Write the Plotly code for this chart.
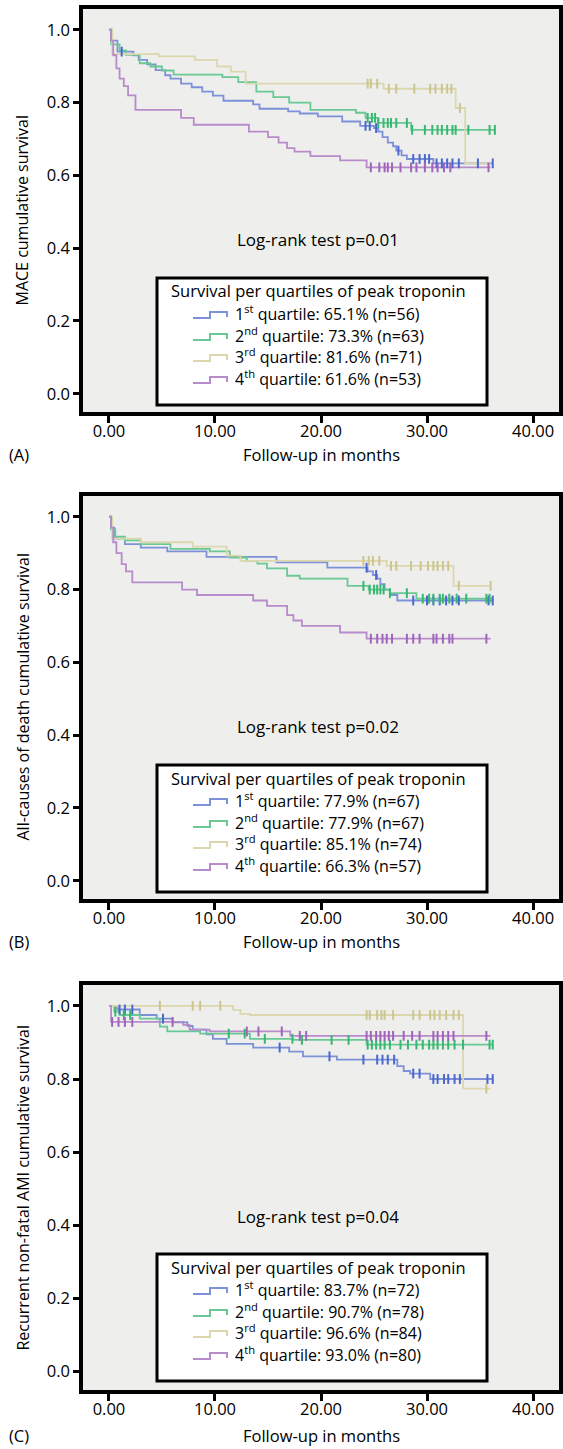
import plotly.graph_objects as go

W, H = 563, 1449

# ---------------- data ----------------
x_ticks = [0, 10, 20, 30, 40]
x_ticklabels = ["0.00", "10.00", "20.00", "30.00", "40.00"]
y_ticks = [0.0, 0.2, 0.4, 0.6, 0.8, 1.0]
y_ticklabels = ["0.0", "0.2", "0.4", "0.6", "0.8", "1.0"]

panel_letters = ["(A)", "(B)", "(C)"]
y_titles = ["MACE cumulative survival",
            "All-causes of death cumulative survival",
            "Recurrent non-fatal AMI cumulative survival"]
x_title = "Follow-up in months"
logrank = ["Log-rank test p=0.01", "Log-rank test p=0.02", "Log-rank test p=0.04"]
legend_title = "Survival per quartiles of peak troponin"
quartile_names = ["1<sup>st</sup> quartile", "2<sup>nd</sup> quartile",
                  "3<sup>rd</sup> quartile", "4<sup>th</sup> quartile"]
A_pct = ["65.1%", "73.3%", "81.6%", "61.6%"]
A_n = [56, 63, 71, 53]
B_pct = ["77.9%", "77.9%", "85.1%", "66.3%"]
B_n = [67, 67, 74, 57]
C_pct = ["83.7%", "90.7%", "96.6%", "93.0%"]
C_n = [72, 78, 84, 80]

# ---- Panel A (MACE) ----
A_q1_t = [0, 0.3, 0.8, 2.3, 2.8, 3.6, 4.4, 5.3, 5.8, 6.8, 7.8, 8.8, 9.8, 10.8, 13.6, 14.2,
          16.9, 18.0, 19.7, 22.0, 23.7, 25.0, 25.4, 25.8, 26.3, 26.8, 27.1, 27.6, 28.1, 30.6, 36.2]
A_q1_s = [1.0, 0.97, 0.94, 0.93, 0.917, 0.905, 0.889, 0.875, 0.866, 0.852, 0.842, 0.83, 0.819,
          0.805, 0.795, 0.783, 0.776, 0.77, 0.762, 0.748, 0.736, 0.73, 0.72, 0.705, 0.69, 0.68,
          0.668, 0.655, 0.645, 0.633, 0.633]
A_q1_c = [1.2, 24.2, 24.6, 25.2, 27.3, 28.7, 29.3, 29.8, 30.2, 30.9, 31.4, 31.9, 32.4, 33.0, 34.8, 36.2]

A_q2_t = [0, 0.2, 1.0, 1.6, 2.9, 3.9, 5.0, 6.1, 10.7, 12.2, 13.9, 15.5, 17.0, 19.0, 23.3,
          24.2, 25.4, 28.5, 36.4]
A_q2_s = [1.0, 0.96, 0.943, 0.931, 0.908, 0.899, 0.888, 0.877, 0.870, 0.856, 0.83, 0.815,
          0.80, 0.78, 0.772, 0.758, 0.744, 0.725, 0.725]
A_q2_c = [24.4, 24.8, 25.1, 25.4, 25.9, 26.3, 26.6, 27.1, 28.1, 28.6, 29.8, 30.5, 31.0, 31.4,
          31.9, 32.4, 32.7, 33.9, 35.9, 36.4]

A_q3_t = [0, 0.3, 4.7, 8.1, 10.2, 11.5, 12.9, 25.9, 32.7, 33.6, 36.0]
A_q3_s = [1.0, 0.933, 0.927, 0.917, 0.899, 0.885, 0.852, 0.838, 0.785, 0.633, 0.633]
A_q3_c = [24.4, 24.7, 25.3, 26.4, 27.1, 28.8, 30.3, 30.8, 31.4, 31.9, 32.3, 33.1]

A_q4_t = [0, 0.2, 0.4, 0.7, 1.0, 1.4, 1.8, 2.5, 6.8, 8.0, 13.2, 15.0, 16.0, 16.8, 17.5,
          19.0, 21.8, 24.3, 36.0]
A_q4_s = [1.0, 0.97, 0.93, 0.894, 0.866, 0.845, 0.82, 0.78, 0.758, 0.739, 0.72, 0.705, 0.69,
          0.675, 0.665, 0.653, 0.641, 0.622, 0.622]
A_q4_c = [24.7, 25.5, 26.0, 26.3, 26.7, 27.5, 28.5, 29.0, 29.8, 30.5, 31.0, 31.6, 32.2, 35.8]

# ---- Panel B (all-cause death) ----
B_q1_t = [0, 0.2, 0.5, 1.5, 3.0, 5.5, 9.2, 15.8, 20.6, 24.4, 24.9, 25.3, 25.6, 26.0, 26.5,
          27.2, 36.2]
B_q1_s = [1.0, 0.97, 0.94, 0.925, 0.915, 0.905, 0.89, 0.875, 0.86, 0.85, 0.84, 0.83, 0.815,
          0.80, 0.785, 0.77, 0.77]
B_q1_c = [24.3, 25.2, 28.7, 30.0, 30.6, 31.2, 31.8, 32.4, 33.0, 35.8, 36.2]

B_q2_t = [0, 0.2, 0.6, 1.5, 3.0, 5.8, 9.5, 11.4, 13.0, 14.0, 14.9, 16.8, 18.0, 22.5, 24.5,
          26.5, 29.0, 36.2]
B_q2_s = [1.0, 0.965, 0.945, 0.935, 0.925, 0.912, 0.905, 0.888, 0.879, 0.871, 0.858, 0.838,
          0.83, 0.81, 0.80, 0.79, 0.775, 0.775]
B_q2_c = [24.0, 24.6, 25.0, 25.3, 25.6, 25.9, 26.5, 28.1, 29.6, 30.2, 30.6, 31.2, 31.5, 32.1,
          32.8, 33.7, 35.6, 35.9]

B_q3_t = [0, 0.3, 3.0, 7.9, 11.1, 12.4, 26.2, 32.5, 36.0]
B_q3_s = [1.0, 0.94, 0.93, 0.918, 0.893, 0.879, 0.865, 0.81, 0.81]
B_q3_c = [24.0, 24.5, 24.9, 25.5, 26.6, 27.1, 28.5, 29.4, 30.1, 30.6, 31.0, 31.5, 32.0, 33.0, 36.0]

B_q4_t = [0, 0.2, 0.4, 0.7, 1.2, 1.6, 2.2, 6.9, 8.3, 13.6, 14.9, 16.8, 17.4, 18.2, 21.8,
          24.3, 36.0]
B_q4_s = [1.0, 0.97, 0.93, 0.90, 0.87, 0.85, 0.82, 0.80, 0.785, 0.77, 0.755, 0.73, 0.715,
          0.70, 0.682, 0.665, 0.665]
B_q4_c = [24.7, 25.3, 25.8, 26.2, 26.7, 28.1, 28.7, 29.3, 30.6, 30.9, 31.5, 32.1, 32.4, 35.6]

# ---- Panel C (recurrent non-fatal AMI) ----
C_q1_t = [0, 0.8, 2.9, 4.5, 6.0, 7.4, 7.9, 9.2, 9.8, 11.1, 13.6, 17.0, 18.3, 21.5, 27.2,
          27.8, 28.4, 30.3, 36.2]
C_q1_s = [1.0, 0.99, 0.975, 0.965, 0.955, 0.945, 0.935, 0.922, 0.91, 0.896, 0.886, 0.875,
          0.862, 0.853, 0.835, 0.822, 0.815, 0.80, 0.80]
C_q1_c = [1.0, 1.5, 2.2, 5.1, 16.1, 20.8, 24.0, 25.3, 25.8, 26.3, 26.9, 28.7, 29.3, 30.6,
          31.0, 31.6, 32.0, 32.6, 33.1, 35.7, 36.2]

C_q2_t = [0, 0.5, 1.0, 2.9, 4.8, 5.5, 8.6, 13.3, 17.4, 24.3, 36.2]
C_q2_s = [1.0, 0.984, 0.975, 0.965, 0.943, 0.93, 0.924, 0.91, 0.907, 0.894, 0.894]
C_q2_c = [0.6, 1.4, 2.0, 11.3, 12.8, 14.7, 17.3, 18.2, 21.0, 22.6, 24.4, 24.8, 25.2, 25.6,
          26.0, 26.5, 27.5, 28.2, 29.0, 29.6, 30.2, 30.6, 31.0, 31.5, 32.0, 32.6, 33.4, 35.9, 36.2]

C_q3_t = [0, 11.7, 12.4, 13.3, 33.4, 36.0]
C_q3_s = [1.0, 0.989, 0.978, 0.975, 0.774, 0.774]
C_q3_c = [4.8, 7.9, 8.6, 10.5, 24.3, 24.6, 25.3, 25.7, 26.0, 26.8, 28.7, 29.3, 30.3, 30.7,
          31.2, 31.8, 32.5, 33.0, 35.6]

C_q4_t = [0, 0.2, 6.4, 7.0, 7.6, 9.5, 17.1, 36.0]
C_q4_s = [1.0, 0.956, 0.956, 0.948, 0.935, 0.93, 0.918, 0.918]
C_q4_c = [0.3, 0.9, 1.5, 2.2, 6.0, 13.0, 14.1, 16.3, 18.0, 18.6, 24.3, 24.7, 25.2, 25.6,
          26.0, 26.4, 26.8, 27.8, 28.6, 29.3, 30.6, 31.0, 31.5, 32.0, 32.5, 35.6]

# ---------------- styling ----------------
line_colors = ["#7d91d8", "#68c994", "#dcd7ae", "#b88bcb"]
mark_colors = ["#4a66cf", "#36b870", "#cdc48e", "#a063bb"]
BG = "#eeefed"
FONT = "Open Sans"

panels = [
    dict(series=[(A_q1_t, A_q1_s, A_q1_c), (A_q2_t, A_q2_s, A_q2_c),
                 (A_q3_t, A_q3_s, A_q3_c), (A_q4_t, A_q4_s, A_q4_c)],
         pct=A_pct, n=A_n, off=0),
    dict(series=[(B_q1_t, B_q1_s, B_q1_c), (B_q2_t, B_q2_s, B_q2_c),
                 (B_q3_t, B_q3_s, B_q3_c), (B_q4_t, B_q4_s, B_q4_c)],
         pct=B_pct, n=B_n, off=487),
    dict(series=[(C_q1_t, C_q1_s, C_q1_c), (C_q2_t, C_q2_s, C_q2_c),
                 (C_q3_t, C_q3_s, C_q3_c), (C_q4_t, C_q4_s, C_q4_c)],
         pct=C_pct, n=C_n, off=976),
]


def step_at(t, s, x):
    v = s[0]
    for ti, si in zip(t, s):
        if ti <= x:
            v = si
        else:
            break
    return v


def PX(x):
    return x / W


def PY(y):
    return 1 - y / H


fig = go.Figure()
shapes = []
annotations = []
layout_axes = {}

for k, p in enumerate(panels):
    idx = "" if k == 0 else str(k + 1)
    off = p["off"]
    top, bot = 9 + off, 412 + off + (2 if k == 2 else 0)
    xa, ya = "x" + idx, "y" + idx

    for j, (t, s, c) in enumerate(p["series"]):
        fig.add_trace(go.Scatter(x=t, y=s, mode="lines", line_shape="hv",
                                 line=dict(color=line_colors[j], width=1.8),
                                 xaxis=xa, yaxis=ya, hoverinfo="skip"))
    for j, (t, s, c) in enumerate(p["series"]):
        cy = [step_at(t, s, x) for x in c]
        fig.add_trace(go.Scatter(x=c, y=cy, mode="markers",
                                 marker=dict(symbol="line-ns", size=7, color=mark_colors[j],
                                             line=dict(color=mark_colors[j], width=2)),
                                 xaxis=xa, yaxis=ya, hoverinfo="skip"))

    layout_axes["xaxis" + idx] = dict(
        domain=[PX(83), PX(559)], anchor=ya, range=[-2.45, 42.45],
        tickvals=x_ticks, ticktext=x_ticklabels, ticks="outside", ticklen=7,
        tickwidth=2.5, tickcolor="black", showline=True, mirror=True,
        linecolor="black", linewidth=3.5, showgrid=False, zeroline=False,
        ticklabelstandoff=-6,
        tickfont=dict(family=FONT, size=16.5, color="black"), fixedrange=True)
    layout_axes["yaxis" + idx] = dict(
        domain=[PY(bot), PY(top)], anchor=xa, range=[-0.05, 1.057],
        tickvals=y_ticks, ticktext=y_ticklabels, ticks="outside", ticklen=6,
        tickwidth=2.5, tickcolor="black", showline=True, mirror=True,
        linecolor="black", linewidth=3.5, showgrid=False, zeroline=False,
        tickfont=dict(family=FONT, size=16.5, color="black"), fixedrange=True)

    xt_y = 454 + off + (5 if k == 2 else 0)
    # panel letter and axis titles
    annotations.append(dict(x=PX(7), y=PY(xt_y), xref="paper", yref="paper",
                            text=panel_letters[k], showarrow=False, xanchor="left",
                            yanchor="middle", font=dict(family=FONT, size=16.5)))
    annotations.append(dict(x=PX(321), y=PY(xt_y), xref="paper", yref="paper",
                            text=x_title, showarrow=False, xanchor="center",
                            yanchor="middle", font=dict(family=FONT, size=16.5)))
    annotations.append(dict(x=PX(22), y=PY((top + bot) / 2), xref="paper", yref="paper",
                            text=y_titles[k], showarrow=False, textangle=-90,
                            xanchor="center", yanchor="middle",
                            font=dict(family=FONT, size=16)))
    annotations.append(dict(x=PX(318), y=PY(240 + off), xref="paper", yref="paper",
                            text=logrank[k], showarrow=False, xanchor="center",
                            yanchor="middle", font=dict(family=FONT, size=17)))

    # legend box
    shapes.append(dict(type="rect", xref="paper", yref="paper",
                       x0=PX(157), x1=PX(487), y0=PY(278 + off), y1=PY(405 + off),
                       line=dict(color="black", width=3), fillcolor="white", layer="above"))
    annotations.append(dict(x=PX(318), y=PY(291 + off), xref="paper", yref="paper",
                            text=legend_title, showarrow=False, xanchor="center",
                            yanchor="middle", font=dict(family=FONT, size=16.5)))
    rows = [313, 335, 356, 378]
    for j in range(4):
        r = rows[j] + off
        path = "M {:.5f} {:.5f} L {:.5f} {:.5f} L {:.5f} {:.5f} L {:.5f} {:.5f} L {:.5f} {:.5f}".format(
            PX(193), PY(r + 5), PX(210), PY(r + 5), PX(210), PY(r - 1),
            PX(227), PY(r - 1), PX(227), PY(r + 4))
        shapes.append(dict(type="path", xref="paper", yref="paper", path=path,
                           line=dict(color=line_colors[j], width=2), layer="above"))
        annotations.append(dict(x=PX(233), y=PY(r), xref="paper", yref="paper",
                                text="{}: {} (n={})".format(quartile_names[j], p["pct"][j], p["n"][j]),
                                showarrow=False, xanchor="left", yanchor="middle",
                                font=dict(family=FONT, size=16)))

fig.update_layout(width=W, height=H, margin=dict(l=0, r=0, t=0, b=0),
                  paper_bgcolor="white", plot_bgcolor=BG, showlegend=False,
                  font=dict(family=FONT, size=16, color="black"),
                  shapes=shapes, annotations=annotations, **layout_axes)

fig.write_html("out.html")
